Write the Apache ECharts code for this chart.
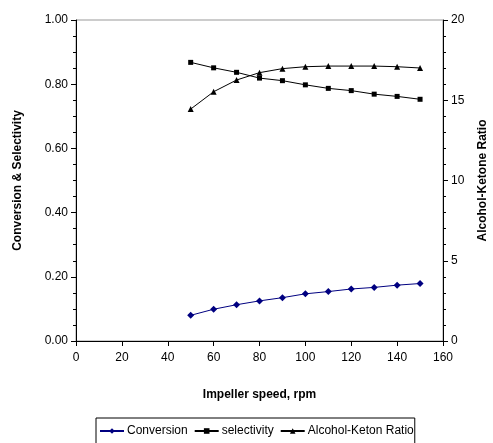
<!DOCTYPE html>
<html>
<head>
<meta charset="utf-8">
<script src="https://cdn.jsdelivr.net/npm/echarts@6/dist/echarts.min.js"></script>
<style>html,body{margin:0;padding:0;background:#fff}#c{width:493px;height:443px}</style>
</head>
<body>
<div id="c"></div>
<script>
const speeds = [50, 60, 70, 80, 90, 100, 110, 120, 130, 140, 150];
const conversion = [0.080, 0.099, 0.113, 0.125, 0.135, 0.147, 0.154, 0.162, 0.167, 0.174, 0.179];
const selectivity = [0.868, 0.851, 0.837, 0.819, 0.811, 0.798, 0.787, 0.780, 0.769, 0.762, 0.753];
const ratio = [14.45, 15.53, 16.26, 16.72, 16.97, 17.09, 17.13, 17.13, 17.13, 17.09, 17.01];

const pair = (xs, ys) => xs.map((x, i) => [x, ys[i]]);
const font = 'Liberation Sans, Arial, sans-serif';
const chart = echarts.init(document.getElementById('c'));
chart.setOption({
  animation: false,
  textStyle: { fontFamily: font },
  grid: { left: 76, right: 50, top: 20, bottom: 102, show: true, borderColor: '#999', borderWidth: 1,
          containLabel: false, outerBoundsMode: 'none' },
  legend: {
    left: 96, top: 418,
    padding: [7, 1, 14, 3],
    borderColor: '#000', borderWidth: 1,
    itemGap: 6, itemWidth: 24, itemHeight: 7,
    textStyle: { fontSize: 12, color: '#000', fontFamily: font, padding: [0, 0, 0, -2] },
    data: ['Conversion', 'selectivity', 'Alcohol-Keton Ratio']
  },
  xAxis: {
    type: 'value', min: 0, max: 160, interval: 20,
    name: 'Impeller speed, rpm', nameLocation: 'middle', nameGap: 48,
    nameTextStyle: { fontWeight: 'bold', fontSize: 12, color: '#000' },
    axisLine: { lineStyle: { color: '#000' } },
    axisTick: { show: true, length: 5, lineStyle: { color: '#000' } },
    axisLabel: { fontSize: 12, color: '#000', margin: 11 },
    splitLine: { show: false }
  },
  yAxis: [{
    type: 'value', min: 0, max: 1, interval: 0.2, position: 'left',
    name: 'Conversion & Selectivity', nameLocation: 'middle', nameGap: 52,
    nameTextStyle: { fontWeight: 'bold', fontSize: 12, color: '#000' },
    axisLine: { show: true, lineStyle: { color: '#000' } },
    axisTick: { show: true, length: 5, lineStyle: { color: '#000' } },
    minorTick: { show: true, splitNumber: 4, length: 3, lineStyle: { color: '#000' } },
    axisLabel: { fontSize: 12, color: '#000', margin: 8, formatter: v => v.toFixed(2) },
    splitLine: { show: false }
  }, {
    type: 'value', min: 0, max: 20, interval: 5, position: 'right',
    name: 'Alcohol-Ketone Ratio', nameLocation: 'middle', nameGap: 34,
    nameTextStyle: { fontWeight: 'bold', fontSize: 12, color: '#000' },
    axisLine: { show: true, lineStyle: { color: '#000' } },
    axisTick: { show: true, length: 5, inside: false, lineStyle: { color: '#000' } },
    minorTick: { show: true, splitNumber: 5, length: 3, lineStyle: { color: '#000' } },
    axisLabel: { fontSize: 12, color: '#000', margin: 8 },
    splitLine: { show: false }
  }],
  series: [{
    name: 'Conversion', type: 'line', yAxisIndex: 0,
    data: pair(speeds, conversion),
    symbol: 'diamond', symbolSize: 7,
    lineStyle: { color: '#000080', width: 1 },
    itemStyle: { color: '#000080' }
  }, {
    name: 'selectivity', type: 'line', yAxisIndex: 0,
    data: pair(speeds, selectivity),
    symbol: 'rect', symbolSize: 5,
    lineStyle: { color: '#000', width: 1 },
    itemStyle: { color: '#000' }
  }, {
    name: 'Alcohol-Keton Ratio', type: 'line', yAxisIndex: 1,
    data: pair(speeds, ratio),
    symbol: 'triangle', symbolSize: 6,
    lineStyle: { color: '#000', width: 1 },
    itemStyle: { color: '#000' }
  }]
});
</script>
</body>
</html>
